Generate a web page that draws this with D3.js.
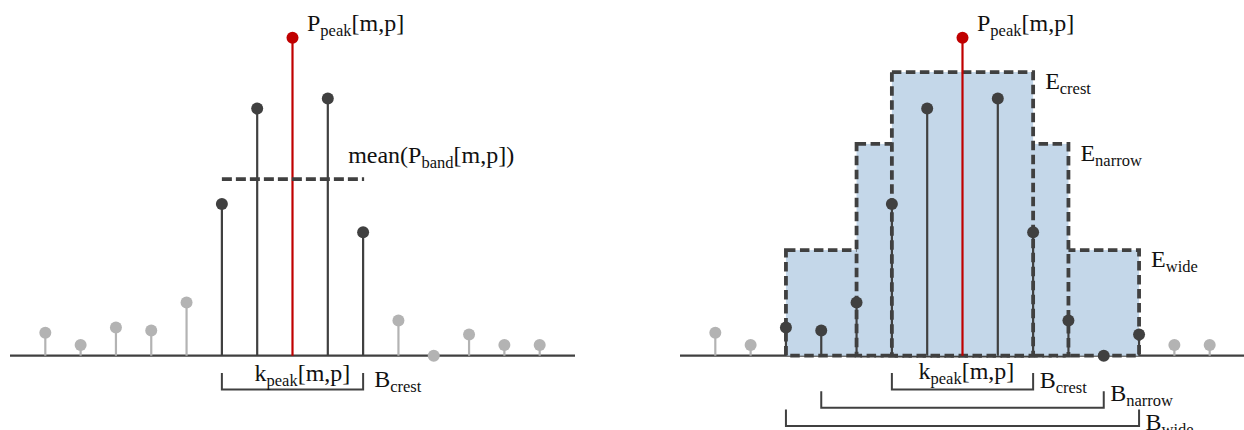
<!DOCTYPE html>
<html>
<head>
<meta charset="utf-8">
<script src="https://cdn.jsdelivr.net/npm/d3@7"></script>
<style>
  body { margin: 0; background: #fff; }
</style>
</head>
<body>
<svg width="1244" height="430"></svg>
<script>
// bin index -> power, peak normalised to 1
const bins = d3.range(15);
const power = [0.072, 0.034, 0.089, 0.079, 0.167, 0.477, 0.777, 1.0, 0.809, 0.388, 0.111, 0.0, 0.067, 0.034, 0.034];
const peakBin = 7;

// left panel: crest band and its mean
const crestBand = [5, 9];
const meanCrest = 0.555;

// right panel: energy bands [from, to, energy]
const bandNames = ['wide', 'narrow', 'crest'];
const bandEdges = [[2, 12], [4, 10], [5, 9]];
const bandEnergy = [0.332, 0.666, 0.892];
// brackets under the axis
const bracketNames = ['crest', 'narrow', 'wide'];
const bracketEdges = [[5, 9], [3, 11], [2, 12]];

const svg = d3.select('svg');
const dark = '#404040';
const light = '#b3b3b3';
const red = '#c00000';
const fillBlue = '#c4d7e9';

const y = d3.scaleLinear().domain([0, 1]).range([355.7, 37.7]);

function label(g, x, yy, main, sub, rest) {
  const t = g.append('text')
    .attr('x', x).attr('y', yy)
    .style('font-family', '"Liberation Serif", "Times New Roman", serif')
    .style('font-size', '24px')
    .attr('fill', '#111');
  t.append('tspan').text(main);
  t.append('tspan').attr('dy', 5).style('font-size', '16.5px').text(sub);
  if (rest) t.append('tspan').attr('dy', -5).text(rest);
  return t;
}

function stems(g, x, hiRange) {
  const col = i => i === peakBin ? red : (i >= hiRange[0] && i <= hiRange[1] ? dark : light);
  g.selectAll('.stem')
    .data(bins)
    .enter()
    .append('line')
    .attr('x1', i => x(i)).attr('x2', i => x(i))
    .attr('y1', y(0)).attr('y2', i => y(power[i]))
    .attr('stroke', col)
    .attr('stroke-width', 2.2);
  g.selectAll('.dot')
    .data(bins)
    .enter()
    .append('circle')
    .attr('cx', i => x(i))
    .attr('cy', i => y(power[i]))
    .attr('r', 6)
    .attr('fill', col);
}

function axisLine(g, x) {
  g.append('line')
    .attr('x1', x(-1)).attr('x2', x(15))
    .attr('y1', y(0)).attr('y2', y(0))
    .attr('stroke', dark)
    .attr('stroke-width', 2.2);
}

function bracket(g, x, edges, level) {
  const bottom = 389.5 + level * 18.3;
  const top = bottom - 16.5;
  g.append('path')
    .attr('d', `M${x(edges[0])},${top}V${bottom}H${x(edges[1])}V${top}`)
    .attr('fill', 'none')
    .attr('stroke', dark)
    .attr('stroke-width', 2);
  return bottom;
}

// ---- left panel
const xL = d3.scaleLinear().domain([-1, 15]).range([10, 575]);
const left = svg.append('g');
axisLine(left, xL);
stems(left, xL, crestBand);

left.append('line')
  .attr('x1', xL(crestBand[0])).attr('x2', xL(crestBand[1]) + 1)
  .attr('y1', y(meanCrest)).attr('y2', y(meanCrest))
  .attr('stroke', dark)
  .attr('stroke-width', 3.8)
  .attr('stroke-dasharray', '10,4');

label(left, xL(peakBin) + 14.5, 31, 'P', 'peak', '[m,p]');
label(left, xL(crestBand[1]) - 15, 163, 'mean(P', 'band', '[m,p])');
bracket(left, xL, crestBand, 0);
label(left, xL(peakBin) - 38, 381, 'k', 'peak', '[m,p]');
label(left, xL(crestBand[1]) + 11, 387, 'B', 'crest');

// ---- right panel
const xR = d3.scaleLinear().domain([-1, 15]).range([680, 1245]);
const right = svg.append('g');
axisLine(right, xR);

bandEdges.forEach((e, k) => {
  right.append('rect')
    .attr('x', xR(e[0]))
    .attr('y', y(bandEnergy[k]))
    .attr('width', xR(e[1]) - xR(e[0]))
    .attr('height', y(0) - y(bandEnergy[k]))
    .attr('fill', fillBlue)
    .attr('stroke', dark)
    .attr('stroke-width', 3.8)
    .attr('stroke-dasharray', '9.5,4.5');
});

stems(right, xR, bandEdges[0]);

bandEdges.forEach((e, k) => {
  label(right, xR(e[1]) + 12, y(bandEnergy[k]) + 17, 'E', bandNames[k]);
});

label(right, xR(peakBin) + 14.5, 31, 'P', 'peak', '[m,p]');
const bShift = [-1.5, -6.5, 4];
bracketEdges.forEach((e, k) => {
  const b = bracket(right, xR, e, k);
  label(right, xR(e[1]) + 6.5, b + bShift[k], 'B', bracketNames[k]);
});
label(right, xR(peakBin) - 44, 379, 'k', 'peak', '[m,p]');
</script>
</body>
</html>
